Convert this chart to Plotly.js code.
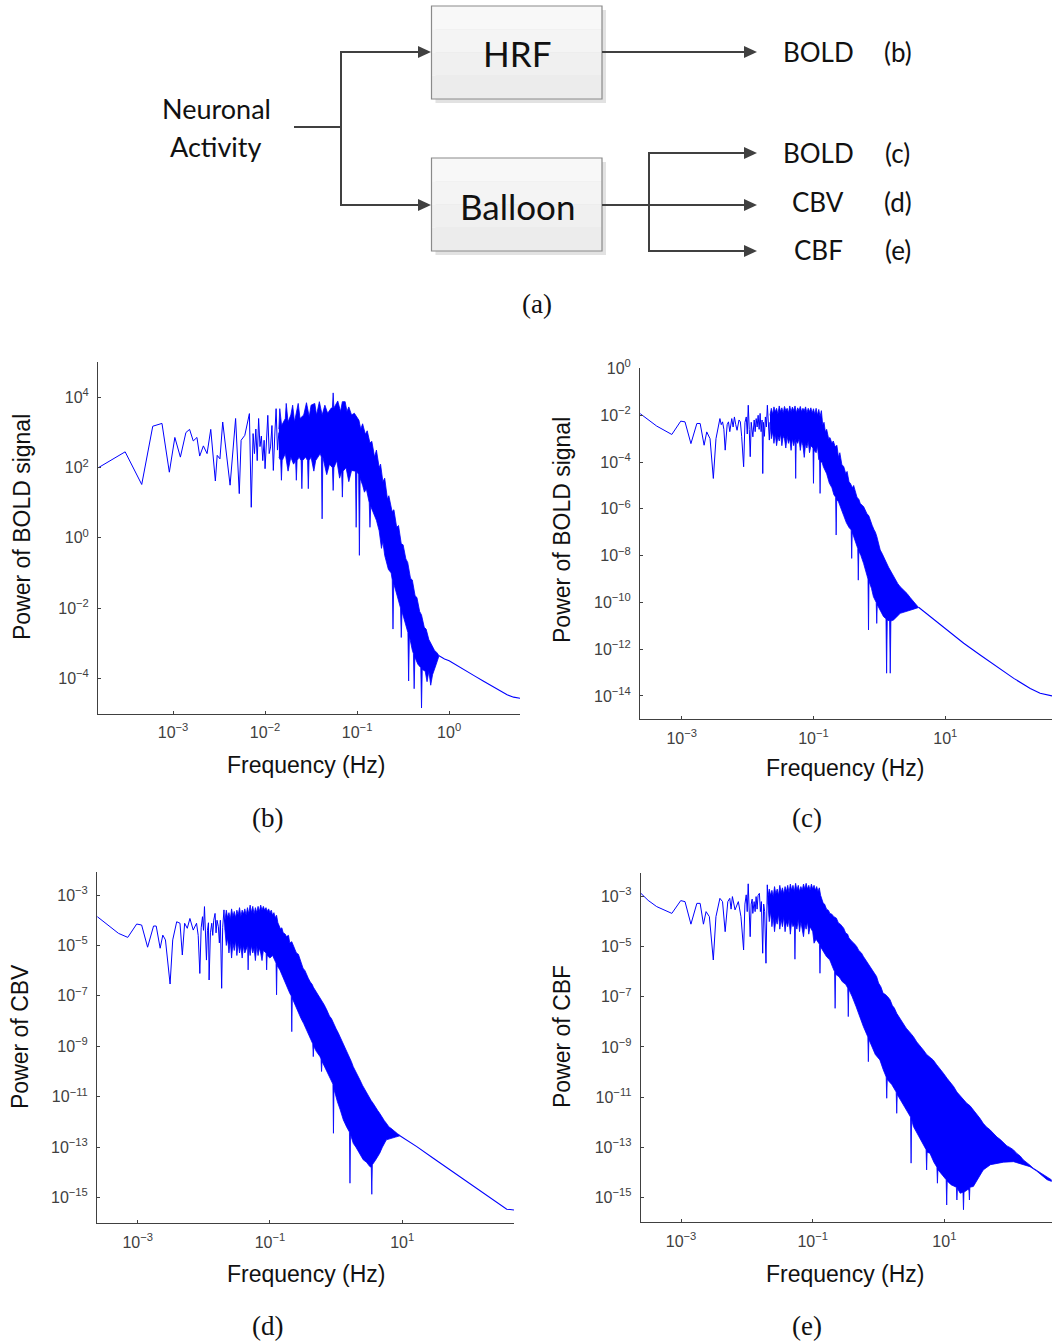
<!DOCTYPE html>
<html>
<head>
<meta charset="utf-8">
<script src="https://cdn.plot.ly/plotly-3.0.1.min.js"></script>
<style>html,body{margin:0;padding:0;background:#fff;}#chart{width:1057px;height:1342px;}</style>
</head>
<body>
<div id="chart"></div>
<script>
// All spectra values are [log10(frequency in Hz), log10(power)].
// ---- (b) HRF -> BOLD ----
const bSparse = [[-3.81,2.00],[-3.52,2.45],[-3.34,1.52],[-3.22,3.18],[-3.12,3.26],[-3.04,1.87],[-2.98,2.86],[-2.92,2.30],[-2.86,3.00],[-2.82,3.09],[-2.78,2.76],[-2.74,2.86],[-2.71,2.33],[-2.67,2.62],[-2.63,2.40],[-2.59,3.09],[-2.54,1.62],[-2.52,2.35],[-2.49,2.25],[-2.46,3.30],[-2.38,1.50],[-2.36,2.21],[-2.32,3.40],[-2.28,1.26],[-2.26,2.78],[-2.22,2.92],[-2.17,3.54],[-2.15,0.87],[-2.13,2.97],[-2.115,2.4],[-2.10,3.1],[-2.085,2.2],[-2.07,3.40],[-2.055,2.6],[-2.04,2.9],[-2.025,2.2],[-2.01,2.78],[-2.00,1.97],[-1.985,3.0],[-1.97,3.49],[-1.955,2.4],[-1.94,2.59],[-1.925,3.2],[-1.91,1.92],[-1.895,2.9],[-1.88,3.68],[-1.865,2.5],[-1.85,3.0]];
const bTop = [[-1.85,3.1],[-1.84,3.68],[-1.82,3.2],[-1.78,3.4],[-1.77,3.83],[-1.75,3.3],[-1.72,3.5],[-1.70,3.78],[-1.68,3.3],[-1.64,3.83],[-1.62,3.4],[-1.58,3.5],[-1.55,3.85],[-1.52,3.45],[-1.50,3.78],[-1.46,3.83],[-1.44,3.5],[-1.41,3.88],[-1.38,3.5],[-1.35,3.78],[-1.32,3.55],[-1.28,3.7],[-1.268,3.7],[-1.26,4.13],[-1.252,3.7],[-1.21,3.9],[-1.18,3.6],[-1.16,3.88],[-1.13,3.88],[-1.11,3.6],[-1.09,3.73],[-1.06,3.5],[-1.03,3.55],[-0.98,3.35],[-0.96,3.1],[-0.94,3.25],[-0.91,2.95],[-0.89,3.05],[-0.86,2.7],[-0.84,2.75],[-0.81,2.3],[-0.79,2.5],[-0.76,2.0],[-0.745,2.1],[-0.72,1.6],[-0.70,1.7],[-0.67,1.1],[-0.655,1.2],[-0.62,0.75],[-0.60,0.8],[-0.57,0.3],[-0.55,0.35],[-0.52,-0.17],[-0.50,-0.2],[-0.47,-0.6],[-0.45,-0.7],[-0.42,-1.15],[-0.40,-1.2],[-0.37,-1.65],[-0.35,-1.7],[-0.32,-2.1],[-0.30,-2.2],[-0.27,-2.55],[-0.25,-2.6],[-0.22,-2.9],[-0.19,-3.05],[-0.16,-3.2],[-0.13,-3.28],[-0.11,-3.36]];
const bBot = [[-1.85,2.3],[-1.83,2.2],[-1.822,1.64],[-1.814,2.2],[-1.78,2.4],[-1.75,1.9],[-1.72,2.3],[-1.69,2.1],[-1.668,2.2],[-1.66,1.64],[-1.652,2.2],[-1.63,2.3],[-1.608,2.2],[-1.60,1.40],[-1.592,2.2],[-1.56,2.3],[-1.538,2.2],[-1.53,1.40],[-1.522,2.2],[-1.50,2.3],[-1.47,1.9],[-1.45,2.2],[-1.40,2.4],[-1.388,2.3],[-1.38,0.54],[-1.372,2.3],[-1.33,1.8],[-1.30,2.1],[-1.268,2.0],[-1.26,1.35],[-1.252,2.0],[-1.22,2.2],[-1.19,1.7],[-1.168,1.9],[-1.16,1.16],[-1.152,1.9],[-1.12,2.0],[-1.09,1.6],[-1.06,1.92],[-1.018,1.9],[-1.01,0.30],[-1.002,1.9],[-0.983,1.8],[-0.975,-0.5],[-0.967,1.7],[-0.94,1.5],[-0.92,1.3],[-0.90,1.4],[-0.868,1.0],[-0.86,0.30],[-0.852,0.9],[-0.82,0.7],[-0.79,0.5],[-0.76,0.2],[-0.745,-0.1],[-0.735,-0.30],[-0.72,-0.1],[-0.70,-0.5],[-0.66,-0.9],[-0.63,-1.0],[-0.618,-1.2],[-0.61,-2.6],[-0.602,-1.3],[-0.57,-1.6],[-0.528,-2.0],[-0.52,-2.84],[-0.512,-2.1],[-0.48,-2.4],[-0.448,-2.7],[-0.44,-4.08],[-0.432,-2.8],[-0.40,-3.2],[-0.388,-3.3],[-0.38,-4.3],[-0.372,-3.4],[-0.34,-3.6],[-0.308,-3.7],[-0.30,-4.85],[-0.292,-3.75],[-0.26,-3.8],[-0.24,-4.1],[-0.22,-3.8],[-0.20,-4.2],[-0.18,-3.9],[-0.14,-3.6],[-0.11,-3.36]];
const bTail = [[-0.11,-3.36],[-0.05,-3.45],[0.00,-3.50],[0.10,-3.65],[0.19,-3.79],[0.28,-3.94],[0.37,-4.08],[0.46,-4.22],[0.55,-4.36],[0.63,-4.47],[0.70,-4.54],[0.77,-4.57]];

// ---- (c) Balloon -> BOLD ----
const cSparse = [[-3.63,-1.93],[-3.50,-2.2],[-3.38,-2.46],[-3.15,-2.82],[-3.015,-2.25],[-2.95,-2.28],[-2.86,-3.21],[-2.77,-2.35],[-2.72,-2.35],[-2.66,-3.28],[-2.62,-2.71],[-2.57,-3.0],[-2.52,-4.70],[-2.48,-3.0],[-2.42,-2.14],[-2.40,-2.4],[-2.38,-2.28],[-2.36,-2.6],[-2.34,-3.49],[-2.31,-2.4],[-2.29,-2.28],[-2.27,-2.7],[-2.24,-2.14],[-2.22,-2.5],[-2.20,-2.07],[-2.18,-2.4],[-2.16,-2.64],[-2.13,-2.2],[-2.11,-2.28],[-2.09,-2.9],[-2.06,-4.20],[-2.04,-2.3],[-2.02,-2.07],[-2.005,-2.8],[-1.99,-1.57],[-1.975,-2.6],[-1.96,-3.77],[-1.945,-2.3],[-1.93,-2.6],[-1.92,-2.92],[-1.90,-2.2],[-1.885,-2.7],[-1.87,-2.14],[-1.855,-2.5],[-1.84,-2.0],[-1.825,-2.6],[-1.81,-1.92],[-1.795,-2.7],[-1.78,-2.2],[-1.77,-4.49],[-1.76,-2.3],[-1.745,-2.9],[-1.73,-2.07],[-1.715,-2.5],[-1.70,-1.57],[-1.685,-2.6],[-1.67,-3.06],[-1.66,-2.3]];
const cTop = [[-1.66,-2.0],[-1.64,-1.7],[-1.62,-1.95],[-1.60,-1.64],[-1.58,-1.85],[-1.56,-1.7],[-1.54,-1.95],[-1.52,-1.6],[-1.50,-1.85],[-1.48,-1.68],[-1.46,-1.9],[-1.44,-1.62],[-1.42,-1.8],[-1.40,-1.7],[-1.38,-1.9],[-1.36,-1.6],[-1.34,-1.85],[-1.32,-1.65],[-1.30,-1.8],[-1.28,-1.6],[-1.26,-1.9],[-1.24,-1.68],[-1.22,-1.8],[-1.20,-1.62],[-1.18,-1.85],[-1.16,-1.7],[-1.14,-1.8],[-1.12,-1.64],[-1.10,-1.9],[-1.08,-1.7],[-1.06,-1.85],[-1.04,-1.68],[-1.02,-1.9],[-1.00,-1.72],[-0.98,-1.95],[-0.96,-1.7],[-0.94,-2.0],[-0.92,-1.75],[-0.90,-2.05],[-0.88,-1.8],[-0.86,-2.4],[-0.84,-2.3],[-0.82,-2.7],[-0.80,-2.6],[-0.77,-3.0],[-0.75,-2.95],[-0.72,-3.2],[-0.70,-3.1],[-0.67,-3.35],[-0.645,-3.28],[-0.62,-3.8],[-0.60,-3.6],[-0.57,-4.1],[-0.54,-4.2],[-0.51,-4.5],[-0.49,-4.4],[-0.46,-4.85],[-0.44,-4.91],[-0.41,-5.1],[-0.39,-5.0],[-0.37,-5.2],[-0.34,-5.5],[-0.31,-5.6],[-0.29,-5.77],[-0.26,-5.85],[-0.24,-5.9],[-0.215,-6.05],[-0.19,-6.2],[-0.16,-6.3],[-0.14,-6.48],[-0.11,-6.7],[-0.08,-6.9],[-0.06,-7.0],[-0.038,-7.19],[-0.01,-7.5],[0.013,-7.76],[0.04,-7.9],[0.07,-8.1],[0.11,-8.33],[0.14,-8.5],[0.18,-8.7],[0.215,-8.90],[0.25,-9.05],[0.28,-9.2],[0.316,-9.33],[0.36,-9.45],[0.42,-9.62],[0.47,-9.8],[0.52,-9.97],[0.56,-10.1],[0.595,-10.19]];
const cBot = [[-1.66,-2.3],[-1.64,-3.0],[-1.62,-2.7],[-1.60,-3.2],[-1.58,-2.8],[-1.56,-3.3],[-1.54,-2.9],[-1.52,-3.1],[-1.50,-2.8],[-1.48,-3.3],[-1.46,-2.9],[-1.44,-3.0],[-1.42,-3.4],[-1.40,-2.9],[-1.38,-3.2],[-1.36,-3.0],[-1.34,-3.5],[-1.32,-3.0],[-1.30,-3.3],[-1.278,-3.0],[-1.27,-4.70],[-1.262,-3.1],[-1.24,-3.2],[-1.22,-3.0],[-1.20,-3.5],[-1.18,-3.1],[-1.16,-3.3],[-1.14,-3.8],[-1.12,-3.2],[-1.10,-3.4],[-1.08,-3.1],[-1.06,-3.6],[-1.04,-3.3],[-1.008,-3.4],[-1.00,-4.91],[-0.992,-3.5],[-0.96,-3.6],[-0.94,-3.3],[-0.92,-3.9],[-0.908,-3.9],[-0.90,-5.34],[-0.892,-4.0],[-0.87,-4.0],[-0.85,-4.2],[-0.80,-4.5],[-0.76,-4.9],[-0.72,-5.1],[-0.69,-5.4],[-0.664,-5.5],[-0.656,-7.12],[-0.648,-5.6],[-0.62,-5.7],[-0.58,-6.0],[-0.54,-6.3],[-0.50,-6.6],[-0.46,-6.8],[-0.428,-6.9],[-0.42,-8.12],[-0.412,-7.0],[-0.38,-7.3],[-0.34,-7.6],[-0.328,-7.7],[-0.32,-9.05],[-0.312,-7.8],[-0.28,-8.0],[-0.24,-8.33],[-0.20,-8.7],[-0.173,-9.0],[-0.165,-11.18],[-0.157,-9.1],[-0.12,-9.4],[-0.09,-9.76],[-0.048,-10.0],[-0.04,-10.9],[-0.032,-10.1],[0.00,-10.3],[0.063,-10.61],[0.10,-10.7],[0.11,-13.03],[0.12,-10.75],[0.155,-10.8],[0.165,-13.03],[0.175,-10.8],[0.215,-10.75],[0.266,-10.61],[0.316,-10.47],[0.40,-10.4],[0.468,-10.33],[0.53,-10.28],[0.595,-10.22]];
const cTail = [[0.595,-10.21],[0.772,-10.61],[1.025,-11.18],[1.28,-11.75],[1.53,-12.25],[1.785,-12.75],[2.04,-13.25],[2.29,-13.68],[2.44,-13.89],[2.62,-14.0]];

// ---- (d) Balloon -> CBV ----
const dSparse = [[-3.61,-3.86],[-3.42,-4.26],[-3.29,-4.52],[-3.15,-4.68],[-3.015,-4.15],[-2.94,-4.19],[-2.85,-5.07],[-2.76,-4.23],[-2.72,-4.23],[-2.66,-5.11],[-2.62,-4.59],[-2.58,-4.78],[-2.51,-6.53],[-2.47,-4.78],[-2.41,-4.06],[-2.36,-4.12],[-2.325,-5.38],[-2.29,-4.12],[-2.25,-4.32],[-2.21,-3.93],[-2.16,-4.39],[-2.11,-4.12],[-2.085,-4.6],[-2.06,-6.11],[-2.04,-4.3],[-2.02,-3.86],[-2.005,-4.4],[-1.99,-3.46],[-1.975,-4.3],[-1.96,-5.58],[-1.945,-4.4],[-1.93,-4.1],[-1.92,-6.37],[-1.90,-4.5],[-1.88,-4.12],[-1.865,-4.6],[-1.85,-4.0],[-1.83,-3.73],[-1.815,-4.5],[-1.80,-4.0],[-1.78,-4.26],[-1.765,-4.9],[-1.75,-4.0],[-1.73,-6.70],[-1.715,-4.3],[-1.695,-3.59],[-1.68,-4.4]];
const dTop = [[-1.68,-4.0],[-1.66,-3.6],[-1.64,-3.9],[-1.62,-3.7],[-1.60,-3.95],[-1.58,-3.55],[-1.56,-3.85],[-1.54,-3.65],[-1.52,-3.9],[-1.50,-3.6],[-1.48,-3.8],[-1.46,-3.5],[-1.44,-3.85],[-1.42,-3.6],[-1.40,-3.75],[-1.38,-3.55],[-1.36,-3.8],[-1.34,-3.5],[-1.32,-3.75],[-1.30,-3.4],[-1.28,-3.7],[-1.26,-3.45],[-1.24,-3.75],[-1.22,-3.5],[-1.20,-3.7],[-1.18,-3.45],[-1.16,-3.65],[-1.14,-3.4],[-1.12,-3.6],[-1.10,-3.45],[-1.08,-3.6],[-1.06,-3.5],[-1.04,-3.65],[-1.02,-3.55],[-1.00,-3.7],[-0.98,-3.6],[-0.96,-3.8],[-0.94,-3.7],[-0.92,-3.9],[-0.90,-3.8],[-0.88,-4.1],[-0.86,-4.2],[-0.84,-4.35],[-0.82,-4.3],[-0.80,-4.5],[-0.77,-4.55],[-0.75,-4.65],[-0.72,-4.6],[-0.70,-4.9],[-0.67,-4.85],[-0.65,-5.0],[-0.62,-5.2],[-0.60,-5.3],[-0.57,-5.35],[-0.55,-5.5],[-0.52,-5.7],[-0.50,-5.9],[-0.47,-6.0],[-0.45,-6.15],[-0.42,-6.3],[-0.39,-6.45],[-0.36,-6.55],[-0.345,-6.65],[-0.31,-6.8],[-0.28,-6.9],[-0.245,-7.05],[-0.21,-7.25],[-0.18,-7.35],[-0.14,-7.56],[-0.10,-7.8],[-0.07,-7.9],[-0.04,-8.1],[0.00,-8.3],[0.03,-8.45],[0.06,-8.62],[0.10,-8.85],[0.13,-9.0],[0.16,-9.15],[0.20,-9.4],[0.23,-9.6],[0.26,-9.81],[0.30,-10.0],[0.33,-10.2],[0.36,-10.33],[0.40,-10.55],[0.43,-10.7],[0.46,-10.86],[0.50,-11.05],[0.53,-11.15],[0.56,-11.26],[0.60,-11.45],[0.63,-11.55],[0.66,-11.66],[0.70,-11.85],[0.73,-11.95],[0.76,-12.05],[0.80,-12.2],[0.83,-12.25],[0.86,-12.32],[0.90,-12.42],[0.93,-12.47],[0.965,-12.53]];
const dBot = [[-1.68,-4.4],[-1.66,-5.0],[-1.64,-4.7],[-1.62,-5.3],[-1.60,-4.8],[-1.58,-5.5],[-1.56,-4.9],[-1.54,-5.2],[-1.52,-4.8],[-1.50,-5.4],[-1.48,-4.9],[-1.46,-5.3],[-1.44,-5.0],[-1.42,-5.5],[-1.40,-5.0],[-1.38,-5.3],[-1.338,-5.0],[-1.33,-5.97],[-1.322,-5.0],[-1.30,-5.4],[-1.28,-5.0],[-1.26,-5.3],[-1.24,-5.1],[-1.22,-5.6],[-1.20,-5.0],[-1.18,-5.4],[-1.16,-5.1],[-1.14,-5.3],[-1.12,-5.6],[-1.10,-5.2],[-1.058,-5.3],[-1.05,-5.97],[-1.042,-5.4],[-1.00,-5.5],[-0.96,-5.4],[-0.908,-5.7],[-0.90,-6.96],[-0.892,-5.8],[-0.85,-5.97],[-0.80,-6.3],[-0.75,-6.6],[-0.70,-6.9],[-0.678,-7.0],[-0.67,-8.42],[-0.662,-7.1],[-0.62,-7.3],[-0.58,-7.6],[-0.53,-7.9],[-0.49,-8.1],[-0.45,-8.3],[-0.40,-8.6],[-0.353,-8.9],[-0.345,-9.41],[-0.337,-9.0],[-0.30,-9.2],[-0.245,-9.4],[-0.228,-9.5],[-0.22,-10.0],[-0.212,-9.6],[-0.15,-9.9],[-0.10,-10.2],[-0.048,-10.5],[-0.04,-12.45],[-0.032,-10.7],[0.02,-11.2],[0.06,-11.5],[0.11,-11.92],[0.16,-12.2],[0.202,-12.4],[0.21,-14.43],[0.218,-12.5],[0.26,-12.85],[0.30,-13.0],[0.35,-13.2],[0.41,-13.5],[0.46,-13.6],[0.51,-13.77],[0.532,-13.8],[0.54,-14.87],[0.548,-13.7],[0.60,-13.5],[0.66,-13.24],[0.70,-13.0],[0.76,-12.71],[0.82,-12.65],[0.90,-12.6],[0.965,-12.55]];
const dTail = [[0.965,-12.55],[1.22,-12.98],[1.47,-13.44],[1.72,-13.90],[1.97,-14.37],[2.22,-14.83],[2.43,-15.22],[2.58,-15.46],[2.69,-15.49]];

// ---- (e) Balloon -> CBF ----
const eSparse = [[-3.61,-2.87],[-3.50,-3.15],[-3.37,-3.40],[-3.14,-3.67],[-3.005,-3.16],[-2.94,-3.20],[-2.85,-4.10],[-2.76,-3.27],[-2.71,-3.27],[-2.66,-4.10],[-2.62,-3.60],[-2.57,-3.80],[-2.51,-5.53],[-2.47,-3.80],[-2.41,-3.07],[-2.37,-3.20],[-2.33,-4.40],[-2.29,-3.20],[-2.26,-3.07],[-2.24,-3.5],[-2.22,-3.0],[-2.18,-3.53],[-2.13,-3.20],[-2.09,-3.8],[-2.05,-5.13],[-2.03,-3.3],[-2.01,-2.93],[-1.995,-3.6],[-1.98,-2.49],[-1.965,-3.5],[-1.95,-4.60],[-1.935,-3.3],[-1.92,-3.1],[-1.91,-3.67],[-1.89,-3.2],[-1.875,-3.6],[-1.86,-3.0],[-1.845,-3.5],[-1.83,-2.95],[-1.81,-2.87],[-1.795,-3.6],[-1.78,-3.2],[-1.76,-5.26],[-1.745,-3.3],[-1.73,-3.6],[-1.71,-5.66],[-1.70,-3.2],[-1.69,-2.53],[-1.68,-3.3]];
const eTop = [[-1.68,-3.0],[-1.66,-2.7],[-1.64,-2.95],[-1.62,-2.75],[-1.60,-3.0],[-1.58,-2.6],[-1.56,-2.9],[-1.54,-2.7],[-1.52,-2.95],[-1.50,-2.55],[-1.48,-2.85],[-1.46,-2.65],[-1.44,-2.9],[-1.42,-2.6],[-1.40,-2.8],[-1.38,-2.55],[-1.36,-2.85],[-1.34,-2.5],[-1.32,-2.75],[-1.30,-2.55],[-1.28,-2.8],[-1.26,-2.47],[-1.24,-2.75],[-1.22,-2.55],[-1.20,-2.8],[-1.18,-2.6],[-1.16,-2.75],[-1.14,-2.5],[-1.12,-2.7],[-1.10,-2.47],[-1.08,-2.7],[-1.06,-2.55],[-1.04,-2.75],[-1.02,-2.5],[-1.00,-2.7],[-0.98,-2.55],[-0.96,-2.75],[-0.94,-2.6],[-0.92,-2.8],[-0.90,-2.65],[-0.88,-2.95],[-0.86,-3.1],[-0.84,-3.27],[-0.82,-3.3],[-0.79,-3.5],[-0.76,-3.55],[-0.74,-3.67],[-0.71,-3.7],[-0.68,-3.8],[-0.64,-3.86],[-0.61,-4.05],[-0.58,-4.1],[-0.55,-4.2],[-0.53,-4.26],[-0.50,-4.45],[-0.47,-4.5],[-0.45,-4.65],[-0.43,-4.73],[-0.40,-4.8],[-0.36,-4.9],[-0.33,-5.0],[-0.30,-5.15],[-0.26,-5.25],[-0.23,-5.39],[-0.19,-5.55],[-0.16,-5.65],[-0.13,-5.79],[-0.09,-5.95],[-0.06,-6.05],[-0.03,-6.19],[0.00,-6.45],[0.035,-6.6],[0.07,-6.86],[0.10,-6.9],[0.14,-7.0],[0.175,-7.12],[0.21,-7.35],[0.24,-7.45],[0.276,-7.66],[0.31,-7.8],[0.34,-7.9],[0.377,-8.06],[0.42,-8.25],[0.47,-8.4],[0.53,-8.59],[0.58,-8.8],[0.63,-8.95],[0.68,-9.12],[0.73,-9.3],[0.78,-9.4],[0.83,-9.52],[0.88,-9.7],[0.93,-9.85],[0.985,-10.05],[1.04,-10.25],[1.09,-10.4],[1.14,-10.58],[1.19,-10.8],[1.24,-10.95],[1.29,-11.11],[1.34,-11.25],[1.39,-11.35],[1.44,-11.51],[1.49,-11.7],[1.54,-11.85],[1.59,-12.05],[1.64,-12.2],[1.69,-12.3],[1.74,-12.45],[1.80,-12.6],[1.85,-12.7],[1.90,-12.84],[1.95,-12.95],[2.00,-13.02],[2.05,-13.11],[2.10,-13.25],[2.15,-13.35],[2.20,-13.51],[2.25,-13.6],[2.30,-13.72],[2.35,-13.84],[2.40,-13.93],[2.45,-14.02],[2.50,-14.11],[2.56,-14.22],[2.63,-14.31]];
const eBot = [[-1.68,-3.3],[-1.66,-4.0],[-1.64,-3.6],[-1.62,-4.2],[-1.60,-3.8],[-1.58,-4.4],[-1.56,-3.9],[-1.54,-4.1],[-1.52,-3.7],[-1.50,-4.3],[-1.48,-3.9],[-1.46,-4.2],[-1.44,-3.8],[-1.42,-4.4],[-1.40,-4.0],[-1.38,-4.2],[-1.36,-3.9],[-1.34,-4.5],[-1.32,-4.0],[-1.30,-4.2],[-1.278,-4.1],[-1.27,-5.50],[-1.262,-4.1],[-1.24,-4.3],[-1.22,-3.9],[-1.20,-4.4],[-1.18,-4.0],[-1.16,-4.2],[-1.14,-4.6],[-1.12,-4.1],[-1.10,-4.3],[-1.08,-4.0],[-1.06,-4.5],[-1.04,-4.2],[-1.00,-4.4],[-0.98,-4.86],[-0.95,-4.7],[-0.898,-4.9],[-0.89,-6.06],[-0.882,-5.0],[-0.84,-5.2],[-0.79,-5.4],[-0.74,-5.53],[-0.70,-5.8],[-0.668,-6.0],[-0.66,-7.46],[-0.652,-6.1],[-0.60,-6.2],[-0.55,-6.4],[-0.50,-6.5],[-0.468,-6.65],[-0.46,-7.79],[-0.452,-6.7],[-0.40,-7.0],[-0.34,-7.4],[-0.28,-7.8],[-0.23,-8.19],[-0.163,-8.6],[-0.155,-9.59],[-0.147,-8.7],[-0.10,-9.0],[-0.05,-9.3],[0.02,-9.52],[0.07,-9.9],[0.116,-10.2],[0.124,-11.05],[0.132,-10.3],[0.20,-10.5],[0.268,-10.8],[0.276,-11.65],[0.284,-10.9],[0.35,-11.2],[0.42,-11.5],[0.486,-11.8],[0.494,-13.64],[0.502,-11.9],[0.53,-12.18],[0.60,-12.5],[0.68,-12.9],[0.722,-13.1],[0.73,-13.91],[0.738,-13.2],[0.78,-13.24],[0.84,-13.6],[0.886,-13.8],[0.894,-14.44],[0.902,-13.9],[0.96,-14.1],[1.027,-14.3],[1.035,-15.31],[1.043,-14.35],[1.10,-14.5],[1.182,-14.6],[1.19,-15.11],[1.198,-14.65],[1.24,-14.84],[1.282,-14.8],[1.29,-15.5],[1.298,-14.8],[1.35,-14.7],[1.372,-14.7],[1.38,-15.11],[1.388,-14.6],[1.44,-14.57],[1.50,-14.3],[1.59,-13.91],[1.70,-13.7],[1.80,-13.64],[1.90,-13.6],[2.05,-13.58],[2.15,-13.65],[2.30,-13.78],[2.40,-13.95],[2.50,-14.17],[2.56,-14.3],[2.63,-14.37]];
const eTail = [];

// tick positions (log10 exponents)
const bXTicks = [-3,-2,-1,0];
const bYTicks = [-4,-2,0,2,4];
const cXTicks = [-3,-1,1];
const cYTicks = [-14,-12,-10,-8,-6,-4,-2,0];
const dXTicks = [-3,-1,1];
const dYTicks = [-15,-13,-11,-9,-7,-5,-3];
const eXTicks = [-3,-1,1];
const eYTicks = [-15,-13,-11,-9,-7,-5,-3];

const xTitle = 'Frequency (Hz)';
const yTitles = ['Power of BOLD signal','Power of BOLD signal','Power of CBV','Power of CBF'];
const captions = ['(a)','(b)','(c)','(d)','(e)'];
const outLabels = ['BOLD','BOLD','CBV','CBF'];
const outTags = ['(b)','(c)','(d)','(e)'];

// ---------- build ----------
const W = 1057, H = 1342;
const PX = x => x / W;
const PY = y => 1 - y / H;
const BLUE = 'rgb(0,0,255)';

function pow10Label(v){ return '10<sup>' + (v < 0 ? '\u2212' + (-v) : v) + '</sup>'; }

const panels = [
  {sp:bSparse, top:bTop, bot:bBot, tail:bTail, xt:bXTicks, yt:bYTicks, xd:[98,520], yd:[362,714], xr:[-3.815,0.77], yr:[-5.02,5.01]},
  {sp:cSparse, top:cTop, bot:cBot, tail:cTail, xt:cXTicks, yt:cYTicks, xd:[640,1052], yd:[368.3,719.3], xr:[-3.633,2.62], yr:[-15.0,0.01]},
  {sp:dSparse, top:dTop, bot:dBot, tail:dTail, xt:dXTicks, yt:dYTicks, xd:[97,514], yd:[871.7,1223.3], xr:[-3.615,2.69], yr:[-16.02,-2.075]},
  {sp:eSparse, top:eTop, bot:eBot, tail:eTail, xt:eXTicks, yt:eYTicks, xd:[640.7,1051.7], yd:[873.3,1222.3], xr:[-3.613,2.63], yr:[-16.0,-2.07]}
];

const traces = [];
const layout = {
  width: W, height: H, margin:{l:0,r:0,t:0,b:0},
  paper_bgcolor:'#ffffff', plot_bgcolor:'rgba(0,0,0,0)', showlegend:false,
  shapes: [], annotations: []
};

const tickFont = {family:'Liberation Sans, Arial, sans-serif', size:16, color:'#404040'};

panels.forEach((p, i) => {
  const n = i === 0 ? '' : String(i + 1);
  const xa = 'x' + n, ya = 'y' + n;
  const common = {xaxis: xa, yaxis: ya, hoverinfo:'skip', showlegend:false};
  traces.push(Object.assign({type:'scatter', mode:'lines', x:p.sp.map(d=>d[0]), y:p.sp.map(d=>d[1]), line:{color:BLUE, width:1}}, common));
  const bx = p.top.map(d=>d[0]).concat(p.bot.slice().reverse().map(d=>d[0]));
  const by = p.top.map(d=>d[1]).concat(p.bot.slice().reverse().map(d=>d[1]));
  traces.push(Object.assign({type:'scatter', mode:'lines', x:bx, y:by, fill:'toself', fillcolor:BLUE, line:{color:BLUE, width:0.8}}, common));
  if (p.tail.length) traces.push(Object.assign({type:'scatter', mode:'lines', x:p.tail.map(d=>d[0]), y:p.tail.map(d=>d[1]), line:{color:BLUE, width:1.1}}, common));

  const axCommon = {showgrid:false, zeroline:false, showline:true, linecolor:'#404040', linewidth:1,
    ticks:'inside', ticklen:3, tickcolor:'#404040', tickwidth:1, tickfont:tickFont, tickmode:'array', fixedrange:true};
  layout['xaxis' + n] = Object.assign({}, axCommon, {domain:[PX(p.xd[0]), PX(p.xd[1])], range:p.xr,
    tickvals:p.xt, ticktext:p.xt.map(pow10Label), anchor:ya, ticklabelstandoff:4});
  layout['yaxis' + n] = Object.assign({}, axCommon, {domain:[PY(p.yd[1]), PY(p.yd[0])], range:p.yr,
    tickvals:p.yt, ticktext:p.yt.map(pow10Label), anchor:xa, ticklabelstandoff:5});
});

// axis titles and captions
const sansTitle = {family:'Liberation Sans, Arial, sans-serif', size:23, color:'#111111'};
const serifCap = {family:'Liberation Serif, Times New Roman, serif', size:27, color:'#111111'};
function ann(text, x, y, font, extra){
  layout.annotations.push(Object.assign({text:text, xref:'paper', yref:'paper', x:PX(x), y:PY(y),
    xanchor:'center', yanchor:'middle', showarrow:false, font:font}, extra||{}));
}
const xTitlePos = [[306,765],[845,768],[306,1274],[845,1274]];
const yTitlePos = [[22,527],[562,530],[20,1037],[562,1037]];
xTitlePos.forEach(p => ann(xTitle, p[0], p[1], sansTitle));
yTitlePos.forEach((p,i) => ann(yTitles[i], p[0], p[1], sansTitle, {textangle:-90}));
const capPos = [[537,304],[267,818],[807,818],[267,1326],[807,1326]];
capPos.forEach((p,i) => ann(captions[i], p[0], p[1], serifCap));

// ---- block diagram (a) ----
const LC = '#404040';
function line(x0,y0,x1,y1){ layout.shapes.push({type:'line', xref:'paper', yref:'paper', x0:PX(x0), y0:PY(y0), x1:PX(x1), y1:PY(y1), line:{color:LC, width:2}}); }
function arrowHead(tx,ty){
  layout.shapes.push({type:'path', xref:'paper', yref:'paper',
    path:'M '+PX(tx)+','+PY(ty)+' L '+PX(tx-13)+','+PY(ty-6)+' L '+PX(tx-13)+','+PY(ty+6)+' Z',
    fillcolor:LC, line:{width:0}});
}
function box(x0,y0,x1,y1){
  layout.shapes.push({type:'rect', xref:'paper', yref:'paper', x0:PX(x0+4), y0:PY(y0+4), x1:PX(x1+4), y1:PY(y1+4), fillcolor:'#e2e2e2', line:{width:0}});
  const bands = ['#f8f8f8','#f4f4f4','#f0f0f0','#ececec'];
  const h = (y1 - y0) / bands.length;
  bands.forEach((c,k) => layout.shapes.push({type:'rect', xref:'paper', yref:'paper', x0:PX(x0), y0:PY(y0 + k*h), x1:PX(x1), y1:PY(y0 + (k+1)*h), fillcolor:c, line:{width:0}}));
  layout.shapes.push({type:'rect', xref:'paper', yref:'paper', x0:PX(x0), y0:PY(y0), x1:PX(x1), y1:PY(y1), line:{color:'#8a8a8a', width:1.2}});
}
box(431.5,6,602,99);
box(431.5,158,602,251);
line(294,127,341,127);
line(341,52,341,205);
line(340,52,420,52); arrowHead(431,52);
line(340,205,420,205); arrowHead(431,205);
line(602,52,746,52); arrowHead(757,52);
line(602,205,746,205); arrowHead(757,205);
line(649,152,649,252);
line(648,153,746,153); arrowHead(757,153);
line(648,251,746,251); arrowHead(757,251);

const diaFont = s => ({family:'Lato, Carlito, Calibri, sans-serif', size:s, color:'#111111'});
ann('HRF', 517, 53, diaFont(35));
ann('Balloon', 517, 206, diaFont(35));
ann('Neuronal', 216, 109, diaFont(27));
ann('Activity', 216, 146, diaFont(27));
const outY = [52,153,202,250];
outY.forEach((y,i) => { ann(outLabels[i], 818, y, diaFont(26)); ann(outTags[i], 898, y, diaFont(26)); });

Plotly.newPlot('chart', traces, layout, {staticPlot:true, displayModeBar:false});
</script>
</body>
</html>
